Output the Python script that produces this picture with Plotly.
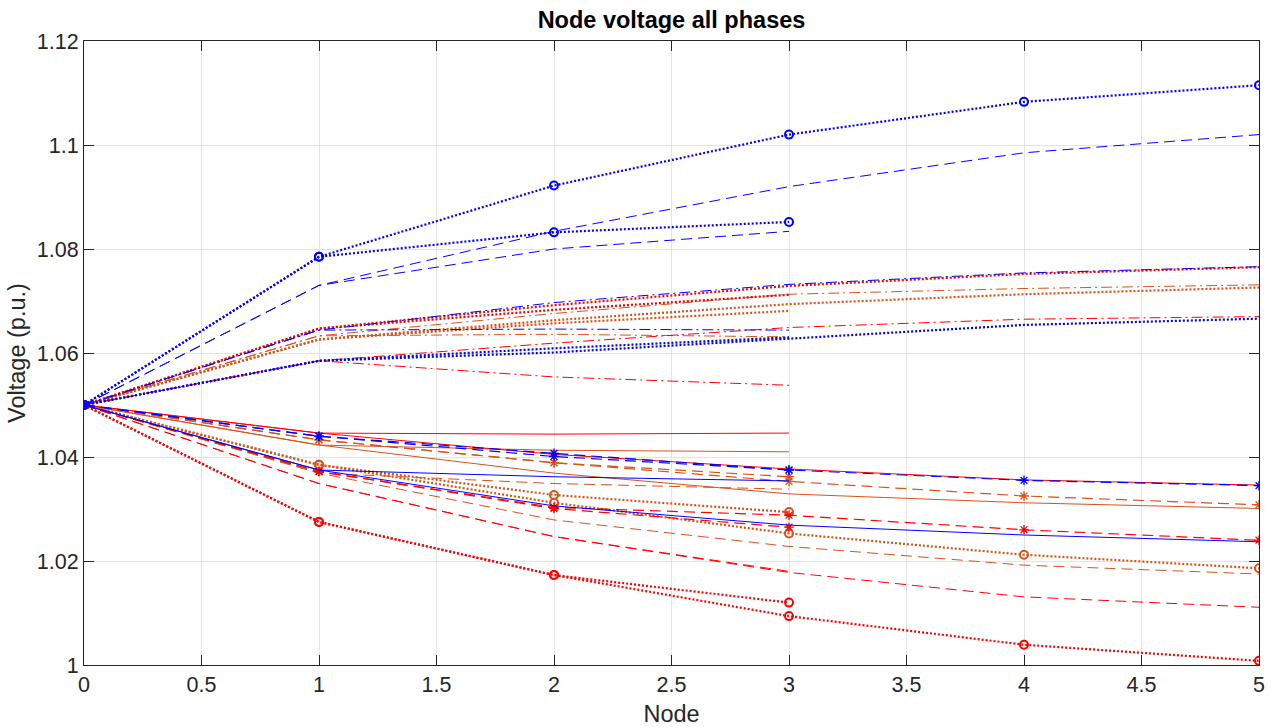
import plotly.graph_objects as go

# Node positions
nodes_main = [0, 1, 2, 3, 4, 5]
nodes_branch = [0, 1, 2, 3]

# ---------------- Phase A (blue) ----------------
blue_dotted_o_main = [1.05, 1.0785, 1.0922, 1.1020, 1.1083, 1.1115]
blue_dotted_o_branch = [1.05, 1.0785, 1.0832, 1.0852]
blue_dashed_main = [1.05, 1.0730, 1.0834, 1.0920, 1.0985, 1.1020]
blue_dashed_branch = [1.05, 1.0730, 1.0800, 1.0834]
blue_dashdot_main = [1.05, 1.0644, 1.0697, 1.0732, 1.0754, 1.0766]
blue_dashdot_branch = [1.05, 1.0644, 1.0646, 1.0644]
blue_dotted_main = [1.05, 1.0585, 1.0601, 1.0628, 1.0654, 1.0666]
blue_dotted_branch = [1.05, 1.0585, 1.0609, 1.0630]
blue_dashed_star_main = [1.05, 1.0440, 1.0407, 1.0375, 1.0355, 1.0345]
blue_dashed_star_branch = [1.05, 1.0440, 1.0401, 1.0375]
blue_solid_main = [1.05, 1.0375, 1.0306, 1.0269, 1.0250, 1.0237]
blue_solid_branch = [1.05, 1.0375, 1.0362, 1.0354]

# ---------------- Phase B (red) ----------------
red_dotted_main = [1.05, 1.0647, 1.0692, 1.0729, 1.0752, 1.0765]
red_dotted_branch = [1.05, 1.0647, 1.0683, 1.0712]
red_dashdot_main = [1.05, 1.0585, 1.0619, 1.0649, 1.0665, 1.0670]
red_dashdot_branch = [1.05, 1.0585, 1.0554, 1.0538]
red_solid_main = [1.05, 1.0446, 1.0405, 1.0377, 1.0356, 1.0346]
red_solid_branch = [1.05, 1.0446, 1.0444, 1.0446]
red_dashed_star_main = [1.05, 1.0372, 1.0303, 1.0288, 1.0260, 1.0240]
red_dashed_star_branch = [1.05, 1.0372, 1.0301, 1.0265]
red_dashed_main = [1.05, 1.0349, 1.0247, 1.0178, 1.0131, 1.0111]
red_dashed_branch = [1.05, 1.0349, 1.0247, 1.0180]
red_dotted_o_main = [1.05, 1.0275, 1.0173, 1.0094, 1.0039, 1.0008]
red_dotted_o_branch = [1.05, 1.0275, 1.0173, 1.0120]

# ---------------- Phase C (orange) ----------------
orange_dashdot_main = [1.05, 1.0633, 1.0676, 1.0713, 1.0724, 1.0731]
orange_dashdot_branch = [1.05, 1.0633, 1.0636, 1.0631]
orange_dotted_main = [1.05, 1.0626, 1.0663, 1.0694, 1.0713, 1.0726]
orange_dotted_branch = [1.05, 1.0626, 1.0657, 1.0681]
orange_dashed_star_main = [1.05, 1.0433, 1.0389, 1.0353, 1.0325, 1.0308]
orange_dashed_star_branch = [1.05, 1.0433, 1.0389, 1.0362]
orange_solid_main = [1.05, 1.0423, 1.0369, 1.0329, 1.0312, 1.0301]
orange_solid_branch = [1.05, 1.0423, 1.0413, 1.0410]
orange_dotted_o_main = [1.05, 1.0385, 1.0312, 1.0253, 1.0212, 1.0186]
orange_dotted_o_branch = [1.05, 1.0385, 1.0327, 1.0294]
orange_dashed_main = [1.05, 1.0369, 1.0279, 1.0228, 1.0192, 1.0175]
orange_dashed_branch = [1.05, 1.0369, 1.0349, 1.0338]

# Tick values
x_ticks = [0, 0.5, 1, 1.5, 2, 2.5, 3, 3.5, 4, 4.5, 5]
y_ticks = [1.0, 1.02, 1.04, 1.06, 1.08, 1.10, 1.12]

BLUE = "#0000FF"
RED = "#FF0000"
ORANGE = "#D95319"
FONT = "Liberation Sans, Arial, sans-serif"

STYLES = {
    "dotted_o": dict(dash="2px,2px", width=2.2, marker="circle-open"),
    "dotted": dict(dash="2px,2px", width=2.2, marker=None),
    "dashed": dict(dash="11px,6px", width=1.0, marker=None),
    "dashed_star": dict(dash="11px,6px", width=1.2, marker="asterisk-open"),
    "dashdot": dict(dash="11px,4px,2px,4px", width=1.0, marker=None),
    "solid": dict(dash="solid", width=1.0, marker=None),
}

series = [
    (ORANGE, "dashdot", orange_dashdot_main, orange_dashdot_branch),
    (ORANGE, "dotted", orange_dotted_main, orange_dotted_branch),
    (ORANGE, "dashed_star", orange_dashed_star_main, orange_dashed_star_branch),
    (ORANGE, "solid", orange_solid_main, orange_solid_branch),
    (ORANGE, "dotted_o", orange_dotted_o_main, orange_dotted_o_branch),
    (ORANGE, "dashed", orange_dashed_main, orange_dashed_branch),
    (RED, "dotted", red_dotted_main, red_dotted_branch),
    (RED, "dashdot", red_dashdot_main, red_dashdot_branch),
    (RED, "solid", red_solid_main, red_solid_branch),
    (RED, "dashed_star", red_dashed_star_main, red_dashed_star_branch),
    (RED, "dashed", red_dashed_main, red_dashed_branch),
    (RED, "dotted_o", red_dotted_o_main, red_dotted_o_branch),
    (BLUE, "dashed", blue_dashed_main, blue_dashed_branch),
    (BLUE, "dashdot", blue_dashdot_main, blue_dashdot_branch),
    (BLUE, "dotted", blue_dotted_main, blue_dotted_branch),
    (BLUE, "solid", blue_solid_main, blue_solid_branch),
    (BLUE, "dashed_star", blue_dashed_star_main, blue_dashed_star_branch),
    (BLUE, "dotted_o", blue_dotted_o_main, blue_dotted_o_branch),
]

fig = go.Figure()
for color, style, y_main, y_branch in series:
    st = STYLES[style]
    for xs, ys in ((nodes_main, y_main), (nodes_branch, y_branch)):
        kw = dict(
            x=xs, y=ys,
            line=dict(color=color, width=st["width"], dash=st["dash"]),
            showlegend=False, hoverinfo="x+y",
        )
        if st["marker"]:
            kw["mode"] = "lines+markers"
            if st["marker"] == "circle-open":
                kw["marker"] = dict(symbol="circle-open", size=8, color=color,
                                    line=dict(width=2, color=color))
            else:
                kw["marker"] = dict(symbol="asterisk-open", size=8, color=color,
                                    line=dict(width=1.3, color=color))
        else:
            kw["mode"] = "lines"
        fig.add_trace(go.Scatter(**kw))

axis_common = dict(
    showline=True, linecolor="#262626", linewidth=1, mirror="allticks",
    ticks="inside", ticklen=10, tickcolor="#262626", tickwidth=1,
    showgrid=True, gridcolor="#E3E3E3", gridwidth=1, zeroline=False,
    automargin=False,
    tickfont=dict(family=FONT, size=21.5, color="#262626"),
)

fig.update_layout(
    width=1271, height=727,
    margin=dict(l=84, r=12, t=41, b=62),
    paper_bgcolor="white", plot_bgcolor="white",
    title=dict(text="<b>Node voltage all phases</b>", x=0.5, xref="paper",
               y=1 - 20 / 727, yanchor="middle", automargin=False,
               font=dict(family=FONT, size=23.5, color="#000000")),
    xaxis=dict(range=[0, 5], tickvals=x_ticks,
               title=dict(text="Node", standoff=11,
                          font=dict(family=FONT, size=23.5, color="#262626")),
               **axis_common),
    yaxis=dict(range=[1.0, 1.12], tickvals=y_ticks,
               title=dict(text="Voltage (p.u.)", standoff=4,
                          font=dict(family=FONT, size=23.5, color="#262626")),
               **axis_common),
)

fig.write_html("out.html", config={"displayModeBar": False},
               post_script="document.body.style.margin='0';")
